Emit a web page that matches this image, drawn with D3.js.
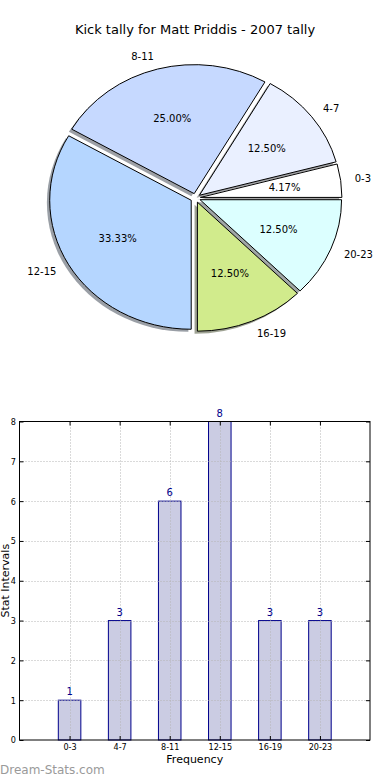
<!DOCTYPE html>
<html>
<head>
<meta charset="utf-8">
<script src="https://cdn.jsdelivr.net/npm/d3@7"></script>
<style>
  html, body { margin: 0; padding: 0; background: #fff; }
  svg { display: block; font-family: "DejaVu Sans", sans-serif; }
  .tick text { font-family: "DejaVu Sans Condensed", "Liberation Sans Narrow", "DejaVu Sans", sans-serif; font-stretch: condensed; }
</style>
</head>
<body>
<svg id="chart" width="390" height="780"></svg>
<script>
// ---- data ----
const categories = ["0-3", "4-7", "8-11", "12-15", "16-19", "20-23"];
const values = [1, 3, 6, 8, 3, 3];
const pieColors = ["#ffffff", "#eaf0ff", "#c6d9ff", "#b5d6ff", "#d1eb8c", "#dcffff"];
const yTickValues = [0, 1, 2, 3, 4, 5, 6, 7, 8];
const titleText = "Kick tally for Matt Priddis - 2007 tally";
const xLabelText = "Frequency";
const yLabelText = "Stat Intervals";
const watermarkText = "Dream-Stats.com";

const svg = d3.select("#chart");

// ---- title ----
svg.append("text")
  .attr("x", 195).attr("y", 34)
  .attr("text-anchor", "middle")
  .attr("font-size", 13).attr("fill", "#000")
  .text(titleText);

// ---- pie (elliptical, exploded, with shadow; matplotlib style) ----
const cx = 195.5, cy = 198, rx = 141.5, ry = 129;
const explode = 0.035;
const total = d3.sum(values);
const pie = d3.pie().sort(null).value(d => d)
  .startAngle(Math.PI / 2).endAngle(Math.PI / 2 - 2 * Math.PI);
const arcs = pie(values);
const arcGen = d3.arc().innerRadius(0).outerRadius(1);

function dir(a) { const m = (a.startAngle + a.endAngle) / 2; return [Math.sin(m), -Math.cos(m)]; }

const pieG = svg.append("g");
// shadows first (below all wedges)
arcs.forEach((a, i) => {
  const [dx, dy] = dir(a);
  const ox = cx + explode * rx * dx - 0.02 * rx;
  const oy = cy + explode * ry * dy + 0.02 * ry;
  const c = d3.rgb(pieColors[i]);
  pieG.append("path")
    .attr("transform", `translate(${ox},${oy}) scale(${rx},${ry})`)
    .attr("d", arcGen(a))
    .attr("fill", d3.rgb(c.r * 0.3, c.g * 0.3, c.b * 0.3))
    .attr("fill-opacity", 0.5)
    .attr("stroke", "none");
});
arcs.forEach((a, i) => {
  const [dx, dy] = dir(a);
  const ox = cx + explode * rx * dx;
  const oy = cy + explode * ry * dy;
  pieG.append("path")
    .attr("transform", `translate(${ox},${oy}) scale(${rx},${ry})`)
    .attr("d", arcGen(a))
    .attr("fill", pieColors[i])
    .attr("stroke", "#000")
    .attr("stroke-width", 1)
    .attr("vector-effect", "non-scaling-stroke");
});
arcs.forEach((a, i) => {
  const [dx, dy] = dir(a);
  // category label
  pieG.append("text")
    .attr("x", cx + (explode + 1.1) * rx * dx)
    .attr("y", cy + (explode + 1.1) * ry * dy)
    .attr("text-anchor", dx > 0 ? "start" : "end")
    .attr("dominant-baseline", "central")
    .attr("font-size", 10).attr("fill", "#000")
    .text(categories[i]);
  // percentage
  pieG.append("text")
    .attr("x", cx + (explode + 0.6) * rx * dx)
    .attr("y", cy + (explode + 0.6) * ry * dy)
    .attr("text-anchor", "middle")
    .attr("dominant-baseline", "central")
    .attr("font-size", 10).attr("fill", "#000")
    .text((values[i] / total * 100).toFixed(2) + "%");
});

// ---- bar chart ----
const L = 19.5, R = 370, T = 421.5, B = 740;
const x = d3.scaleLinear().domain([-1, categories.length]).range([L, R]);
const y = d3.scaleLinear().domain([0, 8]).range([B, T]);
const barW = 0.45;
const barG = svg.append("g");

barG.selectAll("rect.bar").data(values).join("rect")
  .attr("class", "bar")
  .attr("x", (d, i) => x(i - barW / 2))
  .attr("width", (d, i) => x(i + barW / 2) - x(i - barW / 2))
  .attr("y", d => y(d))
  .attr("height", d => y(0) - y(d))
  .attr("fill", "#cbcce3")
  .attr("stroke", "#00008b")
  .attr("stroke-width", 1);

// grid (drawn above bars)
const gridG = barG.append("g").attr("stroke", "#b4b4b4").attr("stroke-width", 1).attr("stroke-dasharray", "1,2");
yTickValues.slice(1, -1).forEach(v => {
  gridG.append("line").attr("x1", L).attr("x2", R).attr("y1", Math.round(y(v)) + 0.5).attr("y2", Math.round(y(v)) + 0.5);
});
categories.forEach((c, i) => {
  gridG.append("line").attr("x1", Math.round(x(i)) + 0.5).attr("x2", Math.round(x(i)) + 0.5).attr("y1", T).attr("y2", B);
});

// value labels
barG.selectAll("text.val").data(values).join("text")
  .attr("class", "val")
  .attr("x", (d, i) => x(i))
  .attr("y", d => y(d) - 5)
  .attr("text-anchor", "middle")
  .attr("font-size", 10).attr("fill", "#00008b")
  .text(d => d);

// axes (inner ticks)
const xIdx = categories.map((c, i) => i);
const axL = barG.append("g").attr("transform", `translate(${L},0)`)
  .call(d3.axisLeft(y).tickValues(yTickValues).tickSizeInner(-4).tickSizeOuter(0).tickPadding(3.5).tickFormat(d3.format("d")));
const axR = barG.append("g").attr("transform", `translate(${R},0)`)
  .call(d3.axisRight(y).tickValues(yTickValues).tickSizeInner(-4).tickSizeOuter(0).tickFormat(""));
const axB = barG.append("g").attr("transform", `translate(0,${B})`)
  .call(d3.axisBottom(x).tickValues(xIdx).tickSizeInner(-4).tickSizeOuter(0).tickPadding(4).tickFormat(i => categories[i]));
const axT = barG.append("g").attr("transform", `translate(0,${T})`)
  .call(d3.axisTop(x).tickValues(xIdx).tickSizeInner(-4).tickSizeOuter(0).tickFormat(""));
[axL, axR, axB, axT].forEach(g => {
  g.select(".domain").remove();
  g.selectAll(".tick line").attr("stroke", "#000");
  g.selectAll(".tick text").attr("font-size", 9).attr("fill", "#000").attr("font-family", null);
});

// frame
barG.append("rect")
  .attr("x", L).attr("y", T).attr("width", R - L).attr("height", B - T)
  .attr("fill", "none").attr("stroke", "#000").attr("stroke-width", 1);

// axis labels
svg.append("text")
  .attr("x", (L + R) / 2).attr("y", 763)
  .attr("text-anchor", "middle").attr("font-size", 11).attr("fill", "#000")
  .text(xLabelText);
svg.append("text")
  .attr("transform", `translate(9,${(T + B) / 2}) rotate(-90)`)
  .attr("text-anchor", "middle").attr("font-size", 11).attr("fill", "#000")
  .text(yLabelText);

// watermark
svg.append("text")
  .attr("x", 0).attr("y", 774)
  .attr("font-size", 12).attr("fill", "#9a9a9a")
  .text(watermarkText);
</script>
</body>
</html>
